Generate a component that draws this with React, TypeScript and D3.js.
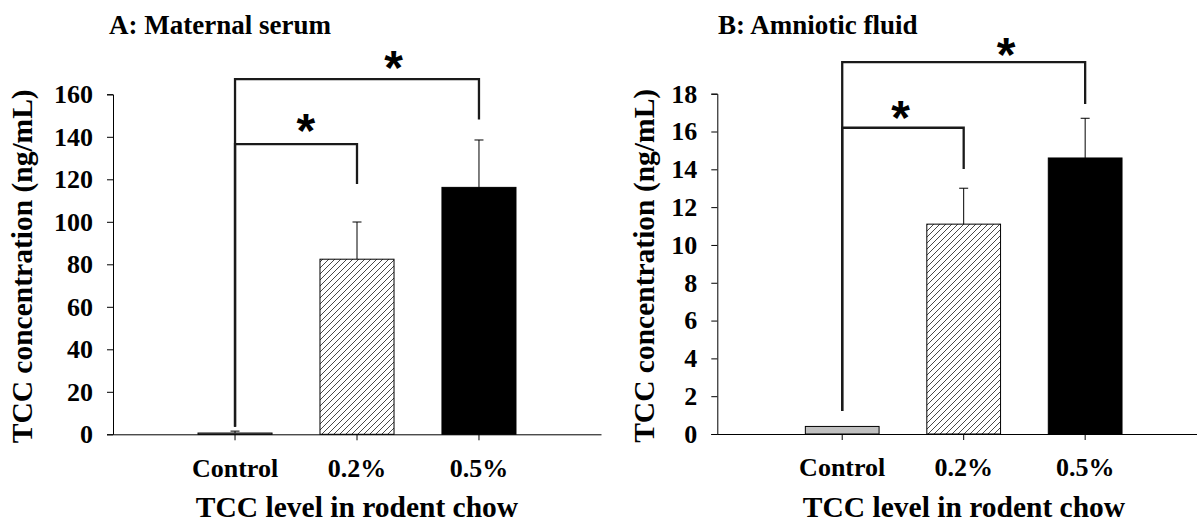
import React, { useEffect, useRef } from 'react';
import * as d3 from 'd3';

// categories and values
const categories = ["Control", "0.2%", "0.5%"];

const serumMeans = [0.6, 82.4, 116.2];
const serumErrors = [0.9, 17.5, 22.3];
const serumTicks = [0, 20, 40, 60, 80, 100, 120, 140, 160];

const fluidMeans = [0.4, 11.1, 14.6];
const fluidErrors = [0, 1.9, 2.1];
const fluidTicks = [0, 2, 4, 6, 8, 10, 12, 14, 16, 18];

// significance brackets (values in data units)
const serumBrackets = [
  { from: 0, to: 1, base: 3.6, top: 136.6, end: 117.8 },
  { from: 0, to: 2, base: 3.6, top: 167.1, end: 148.2 },
];
const serumStars = [
  { pos: 0.58, value: 147.6 },
  { pos: 1.3, value: 177.1 },
];
const fluidBrackets = [
  { from: 0, to: 1, base: 1.22, top: 16.2, end: 14.02 },
  { from: 0, to: 2, base: 1.22, top: 19.67, end: 17.46 },
];
const fluidStars = [
  { pos: 0.48, value: 17.25 },
  { pos: 1.35, value: 20.58 },
];

const barFills = ["#c0c0c0", "url(#hatch)", "#000000"];
const SERIF = "'Liberation Serif', 'Times New Roman', serif";

interface PanelSpec {
  title: string;
  titleX: number;
  axisX: number;
  right: number;
  align: number;
  y0: number;
  yTop: number;
  yMax: number;
  ticks: number[];
  means: number[];
  errors: number[];
  brackets: { from: number; to: number; base: number; top: number; end: number }[];
  stars: { pos: number; value: number }[];
  yLabelX: number;
  xTitleX: number;
}

const panels: PanelSpec[] = [
  {
    title: "A: Maternal serum", titleX: 109, axisX: 113, right: 601, align: 0.5,
    y0: 434.3, yTop: 94.3, yMax: 160, ticks: serumTicks,
    means: serumMeans, errors: serumErrors, brackets: serumBrackets, stars: serumStars,
    yLabelX: 32, xTitleX: 357,
  },
  {
    title: "B: Amniotic fluid", titleX: 718, axisX: 717.3, right: 1203.3, align: 0.52,
    y0: 434, yTop: 93.7, yMax: 18, ticks: fluidTicks,
    means: fluidMeans, errors: fluidErrors, brackets: fluidBrackets, stars: fluidStars,
    yLabelX: 654, xTitleX: 964,
  },
];

const App: React.FC = () => {
  const svgRef = useRef<SVGSVGElement>(null);

  useEffect(() => {
    const svg = d3.select(svgRef.current);
    svg.selectAll("*").remove();

    // hatch pattern for the 0.2% bars
    const pat = svg.append("defs").append("pattern")
      .attr("id", "hatch")
      .attr("patternUnits", "userSpaceOnUse")
      .attr("width", 6)
      .attr("height", 6);
    pat.append("rect").attr("width", 6).attr("height", 6).attr("fill", "#fff");
    pat.append("path")
      .attr("d", "M-1,1 l2,-2 M0,6 l6,-6 M5,7 l2,-2")
      .attr("stroke", "#333")
      .attr("stroke-width", 0.9);

    panels.forEach((p) => {
      const g = svg.append("g");

      const x = d3.scaleBand<string>()
        .domain(categories)
        .range([p.axisX, p.right])
        .paddingInner(0.393)
        .paddingOuter(0.697)
        .align(p.align);

      const y = d3.scaleLinear()
        .domain([0, p.yMax])
        .range([p.y0, p.yTop]);

      const cx = (i: number) => (x(categories[i]) || 0) + x.bandwidth() / 2;

      // bars
      g.selectAll(".bar")
        .data(p.means)
        .enter()
        .append("rect")
        .attr("x", (_, i) => x(categories[i]) || 0)
        .attr("y", d => y(d))
        .attr("width", x.bandwidth())
        .attr("height", d => p.y0 - y(d))
        .attr("fill", (_, i) => barFills[i])
        .attr("stroke", "#000")
        .attr("stroke-width", 1);

      // error bars (upper only)
      p.means.forEach((m, i) => {
        const e = p.errors[i];
        if (!e) return;
        g.append("line")
          .attr("x1", cx(i)).attr("x2", cx(i))
          .attr("y1", y(m)).attr("y2", y(m + e))
          .attr("stroke", "#000").attr("stroke-width", 1);
        g.append("line")
          .attr("x1", cx(i) - 4.5).attr("x2", cx(i) + 4.5)
          .attr("y1", y(m + e)).attr("y2", y(m + e))
          .attr("stroke", "#000").attr("stroke-width", 1);
      });

      // brackets
      p.brackets.forEach(b => {
        const path = d3.path();
        path.moveTo(cx(b.from), y(b.base));
        path.lineTo(cx(b.from), y(b.top));
        path.lineTo(cx(b.to), y(b.top));
        path.lineTo(cx(b.to), y(b.end));
        g.append("path")
          .attr("d", path.toString())
          .attr("fill", "none")
          .attr("stroke", "#1a1a1a")
          .attr("stroke-width", 2.3);
      });

      // asterisks
      p.stars.forEach(s => {
        g.append("text")
          .attr("x", cx(0) + s.pos * x.step())
          .attr("y", y(s.value) + 26)
          .attr("text-anchor", "middle")
          .style("font-family", "'Liberation Sans', Arial, sans-serif")
          .style("font-weight", "bold")
          .style("font-size", "48px")
          .style("fill", "#000")
          .text("*");
      });

      // y axis
      const yAxis = g.append("g")
        .attr("transform", `translate(${p.axisX},0)`)
        .call(d3.axisLeft(y).tickValues(p.ticks).tickSize(6).tickPadding(14));
      yAxis.select(".domain").attr("stroke", "#000");
      yAxis.selectAll(".tick line").attr("stroke", "#000");
      yAxis.selectAll(".tick text")
        .style("font-family", SERIF)
        .style("font-weight", "bold")
        .style("font-size", "26px")
        .style("fill", "#000");

      // x axis
      const xAxis = g.append("g")
        .attr("transform", `translate(0,${p.y0})`)
        .call(d3.axisBottom(x).tickSize(6).tickSizeOuter(0).tickPadding(18));
      xAxis.select(".domain").attr("stroke", "#000");
      xAxis.selectAll(".tick line").attr("stroke", "#000");
      xAxis.selectAll(".tick text")
        .style("font-family", SERIF)
        .style("font-weight", "bold")
        .style("font-size", "26px")
        .style("fill", "#000");

      // panel title
      g.append("text")
        .attr("x", p.titleX)
        .attr("y", 34)
        .style("font-family", SERIF)
        .style("font-weight", "bold")
        .style("font-size", "27px")
        .style("fill", "#000")
        .text(p.title);

      // y axis label
      g.append("text")
        .attr("transform", `translate(${p.yLabelX},${(p.y0 + p.yTop) / 2 + 2}) rotate(-90)`)
        .attr("text-anchor", "middle")
        .style("font-family", SERIF)
        .style("font-weight", "bold")
        .style("font-size", "29.5px")
        .style("fill", "#000")
        .text("TCC concentration (ng/mL)");

      // x axis title
      g.append("text")
        .attr("x", p.xTitleX)
        .attr("y", 517)
        .attr("text-anchor", "middle")
        .style("font-family", SERIF)
        .style("font-weight", "bold")
        .style("font-size", "29.5px")
        .style("fill", "#000")
        .text("TCC level in rodent chow");
    });
  }, []);

  return (
    <svg
      ref={svgRef}
      width={1197}
      height={525}
      style={{ position: 'absolute', left: 0, top: 0, background: '#fff' }}
    />
  );
};

export default App;
